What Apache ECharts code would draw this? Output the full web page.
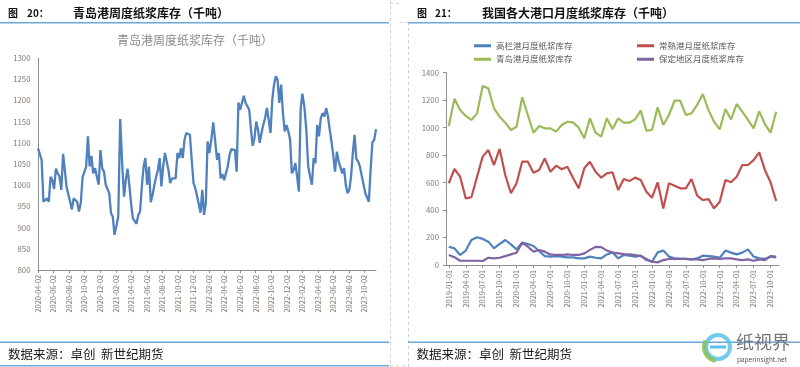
<!DOCTYPE html>
<html><head><meta charset="utf-8">
<script src="https://cdn.jsdelivr.net/npm/echarts@6/dist/echarts.min.js"></script>
<style>html,body{margin:0;padding:0;background:#fff}#c{width:800px;height:367px}</style>
</head><body><div id="c"></div>
<script>
// ---------- Left chart: Qingdao weekly pulp inventory (kt) ----------
const qdWeeklyStart = [2020, 4, 2]; // first weekly observation (Thursday)
const qdWeekly = [
1087,1085,1060,961,960,969,961,1020,1012,991,1039,1028,1020,989,1074,1036,995,991,961,943,969,969,961,938,958,1019,1019,1044,1115,1044,1069,1028,1040,1036,1001,1083,1040,1032,1001,997,981,934,926,883,903,926,1156,
1052,973,1012,1039,1001,958,922,922,909,930,938,997,1044,1064,1001,1044,960,977,1001,1020,1036,1064,997,1044,1076,1078,1036,1005,1016,1016,1016,1076,1064,1087,1064,1107,1123,1125,1119,1060,1005,993,975,973,935,989,930,958,
1103,1076,1107,1148,1145,1060,1076,1016,1026,1012,1012,1044,1071,1085,1083,1083,1032,1195,1178,1178,1211,1194,1186,1178,1131,1093,1111,1150,1131,1100,1123,1142,1158,1182,1154,1123,1202,1237,1257,1249,1194,1237,1170,1127,1142,1127,1107,1028,
1036,1052,1020,985,1178,1216,1186,1131,1044,1020,1001,1064,1052,1142,1115,1158,1170,1162,1182,1162,1131,1103,1071,1032,1079,1056,1052,1028,1040,1001,981,989,1020,1075,1119,1062,1056,1044,1022,1019,981,977,961,1036,1101,1107,1132
];
const leftTickLabels = ['2020-04-02','2020-06-02','2020-08-02','2020-10-02','2020-12-02',
'2021-02-02','2021-04-02','2021-06-02','2021-08-02','2021-10-02','2021-12-02',
'2022-02-02','2022-04-02','2022-06-02','2022-08-02','2022-10-02','2022-12-02',
'2023-02-02','2023-04-02','2023-06-02','2023-08-02','2023-10-02'];

// ---------- Right chart: monthly port inventories (kt), 2019-01 .. 2023-11 ----------
const monthStart = [2019, 1];
const monthCount = 59;
const gaolan = [133,121,73,105,182,202,190,170,121,153,182,150,114,163,153,138,102,65,61,65,61,56,56,48,48,61,53,48,77,92,
48,73,68,61,68,36,24,92,105,61,48,44,44,41,48,68,65,61,53,105,90,77,90,114,61,48,44,61,56];
const changshu = [595,699,643,485,493,643,789,837,728,845,655,522,595,752,752,672,692,776,679,723,697,716,636,558,704,752,679,636,667,
675,546,626,611,636,619,534,490,602,412,595,577,558,558,626,505,473,480,412,461,619,602,643,728,728,764,820,692,602,466];
const qingdao = [1012,1211,1128,1085,1056,1104,1303,1286,1141,1080,1036,983,1007,1221,1092,963,1012,995,995,971,1019,1043,1038,1000,922,1068,963,934,1068,988,
1068,1036,1036,1060,1124,978,983,1148,1019,1092,1196,1196,1092,1104,1165,1245,1128,1043,988,1136,1060,1172,1116,1056,995,1119,1026,963,1116];
const baoding = [73,57,31,31,31,31,29,53,48,53,65,77,89,163,133,97,109,97,77,73,73,77,73,73,85,110,132,130,105,
90,85,80,77,73,65,44,24,19,36,44,44,44,44,41,41,36,44,48,44,48,48,41,36,41,31,41,36,65,61];
const rightNames = ['高栏港月度纸浆库存','常熟港月度纸浆库存','青岛港月度纸浆库存','保定地区月度纸浆库存'];
const rightColors = ['#4F81BD','#C0504D','#9BBB59','#8064A2'];

// ---------- helpers ----------
function pad(n){return (n<10?'0':'')+n;}
function monthOffset(t){ // months since 2020-04-02
  const d = new Date(t);
  const y = d.getUTCFullYear(), m = d.getUTCMonth(), day = d.getUTCDate();
  const dim = new Date(Date.UTC(y, m+1, 0)).getUTCDate();
  return (y-2020)*12 + (m-3) + (day-2)/dim;
}
const t0 = Date.UTC(qdWeeklyStart[0], qdWeeklyStart[1]-1, qdWeeklyStart[2]);
const leftData = qdWeekly.map((v,i)=>[monthOffset(t0 + i*7*86400000), v]);
const leftTickValues = leftTickLabels.map((s,i)=>i*2);

const monthCats = [];
for(let i=0;i<monthCount;i++){
  const y = monthStart[0] + Math.floor((monthStart[1]-1+i)/12);
  const m = (monthStart[1]-1+i)%12 + 1;
  monthCats.push(y+'-'+pad(m)+'-01');
}
const rightSeriesData = [gaolan, changshu, qingdao, baoding];

const FONT = '"Noto Sans CJK SC","Noto Sans",sans-serif';
const LBL = '#857b72';
const AXC = '#8f8f8f';
const BLUE_RULE = '#6fa6d8';
const plain = v => String(v);

const chart = echarts.init(document.getElementById('c'), null, {renderer:'canvas'});

const legends = rightNames.map((n,i)=>({
  data:[n], icon:'rect', itemWidth:17, itemHeight:3,
  left: i%2===0 ? 469 : 632, top: i<2 ? 36.5 : 50,
  textStyle:{fontSize:8.5, color:'#595959', fontFamily:FONT},
  selectedMode:false
}));

function hline(x1,x2,y,color,w,dash){
  return {type:'line', shape:{x1:x1,y1:y,x2:x2,y2:y}, style:{stroke:color,lineWidth:w,lineDash:dash||null}, silent:true};
}
function vline(x,y1,y2,color,w,dash){
  return {type:'line', shape:{x1:x,y1:y1,x2:x,y2:y2}, style:{stroke:color,lineWidth:w,lineDash:dash||null}, silent:true};
}
function txt(s,x,y,size,weight,color,align){
  return {type:'text', style:{text:s, x:x, y:y, fontSize:size, fontWeight:weight||'normal', fontFamily:FONT, fill:color||'#000', align:align||'left', verticalAlign:'middle'}, silent:true};
}

const graphics = [
  // page frame hints
  vline(390.5,0,367,'#d0d0d0',1,[3,3]),
  vline(408.5,22,367,'#d0d0d0',1,[3,3]),
  hline(390,400,3.5,'#d0d0d0',1,[3,3]),
  hline(400,408,22.5,'#d0d0d0',1,[3,3]),
  hline(390,408,366,'#d0d0d0',1,[3,3]),
  // headers
  txt('图',8,13,10,'bold','#111'),
  txt('20：',27,13,10,'bold','#111'),
  txt('青岛港周度纸浆库存（千吨）',73,13,12,'bold','#111'),
  txt('图',417,13,10,'bold','#111'),
  txt('21：',435,13,10,'bold','#111'),
  txt('我国各大港口月度纸浆库存（千吨）',482,13,12,'bold','#111'),
  hline(0,389,22.7,BLUE_RULE,1.6),
  hline(408,800,22.7,BLUE_RULE,1.6),
  // left inner title
  txt('青岛港周度纸浆库存（千吨）',195,40,12,'normal','#8a8a8a','center'),
  // footers
  hline(0,389,342.3,BLUE_RULE,1.6),
  hline(408,800,342.3,BLUE_RULE,1.6),
  hline(0,389,365.7,BLUE_RULE,1.6),
  txt('数据来源：卓创  新世纪期货',8,354.5,12.5,'normal','#1a1a1a'),
  txt('数据来源：卓创  新世纪期货',416.5,354.5,12.5,'normal','#1a1a1a'),
  // watermark logo
  {type:'circle', shape:{cx:718,cy:347,r:12}, style:{fill:'none',stroke:'#5cc0ea',lineWidth:4,opacity:0.85}, silent:true},
  {type:'arc', shape:{cx:718,cy:347,r:14,startAngle:Math.PI*0.55,endAngle:Math.PI*1.15}, style:{stroke:'#8cc152',lineWidth:4,fill:'none',opacity:0.9}, silent:true},
  hline(710,726,347,'#5cc0ea',3),
  txt('纸视界',763,342,18,'normal','#767676','center'),
  txt('paperinsight.net',762,360,6.5,'normal','#555','center')
];

const option = {
  animation:false,
  backgroundColor:'#fff',
  textStyle:{fontFamily:FONT},
  legend: legends,
  grid:[
    {left:38, top:58, width:338, height:212},
    {left:446, top:72.7, width:333, height:192.3}
  ],
  xAxis:[
    {type:'value', gridIndex:0, min:0, max:'dataMax',
     axisLine:{show:true,lineStyle:{color:AXC,width:1}},
     axisTick:{show:true,length:3,customValues:leftTickValues,lineStyle:{color:AXC}},
     splitLine:{show:false},
     axisLabel:{customValues:leftTickValues, rotate:90, margin:5, fontSize:7.3, color:LBL, fontFamily:FONT,
       formatter:function(v){return leftTickLabels[Math.round(v/2)]||'';}}},
    {type:'category', gridIndex:1, data:monthCats, boundaryGap:true,
     axisLine:{show:true,lineStyle:{color:AXC,width:1}},
     axisTick:{show:true,length:3,interval:2,alignWithLabel:true,lineStyle:{color:AXC}},
     axisLabel:{interval:2, rotate:90, margin:5, fontSize:7.3, color:LBL, fontFamily:FONT}}
  ],
  yAxis:[
    {type:'value', gridIndex:0, min:800, max:1300, interval:50,
     axisLine:{show:true,lineStyle:{color:AXC,width:1}},
     axisTick:{show:false}, splitLine:{show:false},
     axisLabel:{margin:7.5, fontSize:7.8, color:LBL, fontFamily:FONT, formatter:plain}},
    {type:'value', gridIndex:1, min:0, max:1400, interval:200,
     axisLine:{show:true,lineStyle:{color:AXC,width:1}},
     axisTick:{show:true,length:3,lineStyle:{color:AXC}}, splitLine:{show:false},
     axisLabel:{margin:7, fontSize:7.8, color:LBL, fontFamily:FONT, formatter:plain}}
  ],
  series:[
    {type:'line', name:'青岛港周度纸浆库存', xAxisIndex:0, yAxisIndex:0, data:leftData,
     showSymbol:false, lineStyle:{color:'#4F81BD', width:2.3}, itemStyle:{color:'#4F81BD'}, silent:true}
  ].concat(rightNames.map((n,i)=>({
     type:'line', name:n, xAxisIndex:1, yAxisIndex:1, data:rightSeriesData[i],
     showSymbol:false, lineStyle:{color:rightColors[i], width:2.2}, itemStyle:{color:rightColors[i]}, silent:true
  }))),
  graphic: graphics
};
chart.setOption(option);
</script>
</body></html>
